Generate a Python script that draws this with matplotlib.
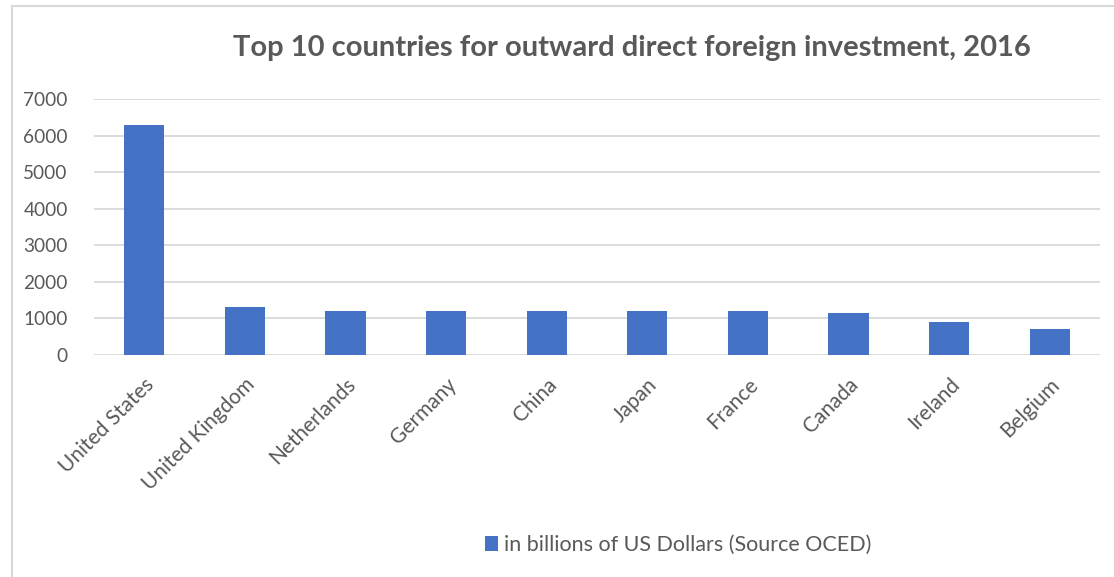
import matplotlib
matplotlib.use("Agg")
import matplotlib.pyplot as plt
from matplotlib.lines import Line2D
from matplotlib.patches import Patch

countries = ["United States", "United Kingdom", "Netherlands", "Germany", "China",
             "Japan", "France", "Canada", "Ireland", "Belgium"]
investment = [6300, 1300, 1200, 1200, 1200, 1200, 1200, 1150, 900, 700]
y_ticks = [0, 1000, 2000, 3000, 4000, 5000, 6000, 7000]
title = "Top 10 countries for outward direct foreign investment, 2016"
series_label = "in billions of US Dollars (Source OCED)"

BAR = "#4472C4"
GRID = "#D9D9D9"
TEXT = "#595959"

plt.rcParams["font.family"] = ["Lato", "DejaVu Sans"]

W, H = 1114, 577
fig = plt.figure(figsize=(W / 100, H / 100), dpi=100)
ax = fig.add_axes([94 / W, 1 - 355 / H, (1100 - 94) / W, (355 - 99) / H])

x = range(len(countries))
ax.bar(x, investment, width=0.4, color=BAR, zorder=3)

ax.set_xlim(-0.5, len(countries) - 0.5)
ax.set_ylim(0, 7000)
ax.set_yticks(y_ticks)
ax.set_yticklabels([str(v) for v in y_ticks], fontsize=13.7, color=TEXT)
ax.set_xticks(list(x))
ax.set_xticklabels(countries, rotation=45, ha="right", va="top",
                   rotation_mode="anchor", fontsize=15, color=TEXT)
ax.tick_params(axis="both", length=0)
ax.tick_params(axis="y", pad=19)
ax.tick_params(axis="x", pad=14)
ax.yaxis.grid(True, color=GRID, linewidth=1.3, zorder=0)
for s in ax.spines.values():
    s.set_visible(False)

fig.text(632 / W, 1 - 48 / H, title, ha="center", va="center",
         fontsize=21, fontweight="bold", color=TEXT)

fig.legend(handles=[Patch(facecolor=BAR, edgecolor="none", label=series_label)],
           loc="center", bbox_to_anchor=(678 / W, 1 - 545 / H), frameon=False,
           fontsize=15.5, labelcolor=TEXT, handlelength=0.6, handleheight=0.75,
           handletextpad=0.3)

# outer chart border
fig.add_artist(Line2D([12 / W, 1], [1 - 6 / H, 1 - 6 / H], color=GRID, linewidth=1.5))
fig.add_artist(Line2D([12 / W, 12 / W], [0, 1 - 6 / H], color=GRID, linewidth=1.5))

fig.savefig("out.png", dpi=100)
